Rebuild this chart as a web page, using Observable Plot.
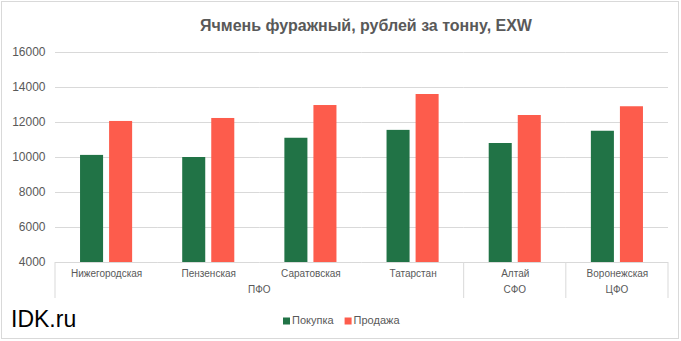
<!DOCTYPE html>
<html><head><meta charset="utf-8">
<script src="https://cdn.jsdelivr.net/npm/d3@7"></script>
<script src="https://cdn.jsdelivr.net/npm/@observablehq/plot@0.6"></script>
<style>
body{margin:0;background:#fff}
#chart{position:relative;width:681px;height:341px}
#chart svg{display:block}
</style>
</head><body><div id="chart"></div>
<script>
const title = "Ячмень фуражный, рублей за тонну, EXW";
const regions = ["Нижегородская","Пензенская","Саратовская","Татарстан","Алтай","Воронежская"];
const districts = ["ПФО","ПФО","ПФО","ПФО","СФО","ЦФО"];
const series = ["Покупка","Продажа"];
const purchase = [10120, 10000, 11100, 11550, 10800, 11500];
const sale = [12060, 12230, 12970, 13600, 12400, 12900];
const yTicks = [4000, 6000, 8000, 10000, 12000, 14000, 16000];
const colors = ["#217346", "#FD5C4C"];
const watermark = "IDK.ru";

const data = regions.flatMap((r, i) => [
  {region: r, series: series[0], value: purchase[i]},
  {region: r, series: series[1], value: sale[i]}
]);

const font = "'Liberation Sans', Arial, sans-serif";
const textColor = "#595959";

const plot = Plot.plot({
  width: 681, height: 341,
  marginLeft: 55, marginRight: 13, marginTop: 52, marginBottom: 79,
  style: {fontFamily: font, background: "transparent", overflow: "visible"},
  fx: {domain: regions, padding: 0, label: null, round: false},
  x: {domain: series, paddingInner: 0.207, paddingOuter: 0.862, axis: null, round: false},
  y: {domain: [4000, 16000], label: null},
  color: {domain: series, range: colors},
  marks: [
    Plot.gridY(yTicks, {stroke: "#d9d9d9", strokeOpacity: 1}),
    Plot.axisY(yTicks, {tickSize: 0, tickPadding: 10, fontSize: 12, fill: textColor, label: null, tickFormat: d => String(d)}),
    Plot.axisFx({anchor: "bottom", tickSize: 0, tickPadding: 7, fontSize: 10, fill: textColor, label: null}),
    Plot.barY(data, {fx: "region", x: "series", y: "value", fill: "series", clip: true})
  ]
});

document.getElementById("chart").appendChild(plot);

const svg = d3.select(plot);
const fx = plot.scale("fx");
const ys = plot.scale("y");
const color = plot.scale("color");
const y0 = ys.apply(4000);

// border
svg.insert("rect", ":first-child")
  .attr("x", 1.5).attr("y", 1.5).attr("width", 677).attr("height", 337)
  .attr("fill", "#fff").attr("stroke", "#d9d9d9");

// title
svg.append("text").text(title)
  .attr("x", 366).attr("y", 27).attr("text-anchor", "middle").attr("dominant-baseline", "middle")
  .attr("font-family", font).attr("font-weight", "bold").attr("font-size", 16).attr("fill", textColor);

// grouped (hierarchical) axis
const groups = d3.groups(regions.map((r, i) => ({r, d: districts[i]})), d => d.d);
const g = svg.append("g").attr("font-family", font).attr("font-size", 10).attr("fill", textColor);
const bounds = [];
groups.forEach(([name, items]) => {
  const x1 = fx.apply(items[0].r);
  const x2 = fx.apply(items[items.length - 1].r) + fx.bandwidth;
  bounds.push(x1, x2);
  g.append("text").text(name).attr("x", (x1 + x2) / 2).attr("y", y0 + 28)
    .attr("text-anchor", "middle").attr("dominant-baseline", "middle");
});
[...new Set(bounds)].forEach(x => {
  g.append("line").attr("x1", x).attr("x2", x).attr("y1", y0).attr("y2", y0 + 36)
    .attr("stroke", "#d9d9d9");
});

// legend
const lg = svg.append("g").attr("font-family", font).attr("font-size", 11).attr("fill", textColor).attr("text-anchor", "start");
let lx = 283;
const ly = 321;
series.forEach(s => {
  lg.append("rect").attr("x", lx).attr("y", ly - 3.5).attr("width", 7).attr("height", 7).attr("fill", color.apply(s));
  const t = lg.append("text").text(s).attr("x", lx + 9).attr("y", ly).attr("dominant-baseline", "middle");
  lx += 9 + t.node().getComputedTextLength() + 11;
});

// watermark
svg.append("text").text(watermark).attr("x", 11).attr("y", 327).attr("text-anchor", "start")
  .attr("font-family", font).attr("font-size", 23).attr("fill", "#000");
</script>
</body></html>
